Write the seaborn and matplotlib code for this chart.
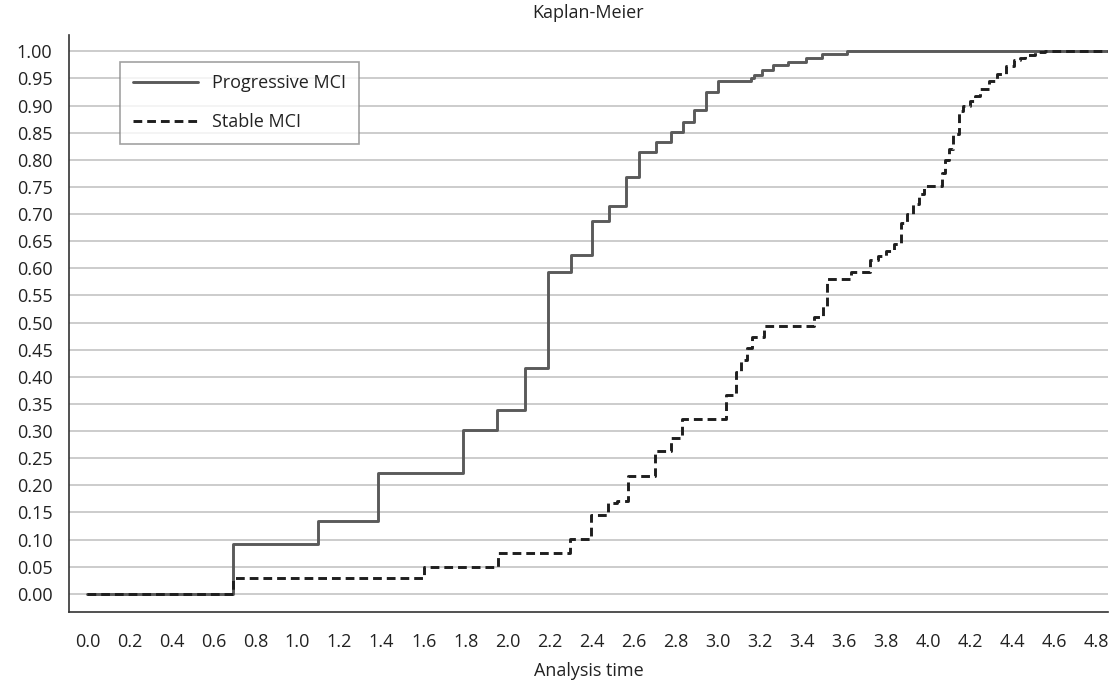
import pandas as pd
import matplotlib.pyplot as plt
import seaborn as sns

# Kaplan-Meier failure curves (time, cumulative value)
prog_time = [0.0, 0.694, 1.097, 1.383, 1.786, 1.948, 2.084, 2.190, 2.301, 2.400,
             2.483, 2.562, 2.626, 2.705, 2.776, 2.835, 2.887, 2.942, 3.002, 3.156,
             3.172, 3.210, 3.262, 3.335, 3.420, 3.494, 3.615, 4.850]
prog_val = [0.0, 0.092, 0.135, 0.222, 0.302, 0.339, 0.416, 0.594, 0.624, 0.688,
            0.715, 0.769, 0.814, 0.833, 0.852, 0.869, 0.891, 0.924, 0.946, 0.951,
            0.956, 0.965, 0.975, 0.980, 0.987, 0.995, 1.0, 1.0]

stable_time = [0.0, 0.694, 1.604, 1.953, 2.296, 2.396, 2.475, 2.520, 2.570, 2.702,
               2.776, 2.831, 3.037, 3.088, 3.110, 3.140, 3.164, 3.220, 3.457, 3.500,
               3.520, 3.631, 3.726, 3.760, 3.800, 3.840, 3.869, 3.900, 3.930, 3.955,
               3.980, 4.064, 4.080, 4.100, 4.120, 4.145, 4.166, 4.200, 4.225, 4.249,
               4.290, 4.330, 4.370, 4.410, 4.439, 4.463, 4.510, 4.558, 4.597, 4.850]
stable_val = [0.0, 0.030, 0.050, 0.075, 0.101, 0.145, 0.167, 0.171, 0.218, 0.264,
              0.287, 0.323, 0.367, 0.408, 0.431, 0.453, 0.473, 0.493, 0.510, 0.531,
              0.580, 0.5925, 0.615, 0.622, 0.632, 0.645, 0.683, 0.700, 0.718, 0.736,
              0.7515, 0.775, 0.800, 0.820, 0.848, 0.889, 0.900, 0.908, 0.917, 0.930,
              0.945, 0.958, 0.972, 0.983, 0.988, 0.993, 0.998, 1.0, 1.0, 1.0]

groups = ['Progressive MCI', 'Stable MCI']

df = pd.concat([
    pd.DataFrame({'time': prog_time, 'value': prog_val, 'group': groups[0]}),
    pd.DataFrame({'time': stable_time, 'value': stable_val, 'group': groups[1]}),
])

sns.set_style('white')
plt.rcParams['font.family'] = ['Open Sans', 'DejaVu Sans']
plt.rcParams['font.size'] = 13

fig = plt.figure(figsize=(11.1, 6.82), dpi=100)
ax = fig.add_axes([0.0622, 0.1031, 0.9358, 0.8456])

sns.lineplot(data=df, x='time', y='value', hue='group', style='group',
             palette={groups[0]: '#5a5a5a', groups[1]: '#1e1e1e'},
             dashes={groups[0]: '', groups[1]: (3, 1.7)},
             drawstyle='steps-post', linewidth=2.1, estimator=None, sort=False,
             ax=ax, zorder=3)

yticks = [i * 0.05 for i in range(21)]
xticks = [i * 0.2 for i in range(25)]
ax.set_yticks(yticks)
ax.set_yticklabels([f'{v:.2f}' for v in yticks])
ax.set_xticks(xticks)
ax.set_xticklabels([f'{v:.1f}' for v in xticks])
ax.set_xlim(-0.087, 4.855)
ax.set_ylim(-0.033, 1.03)

ax.yaxis.grid(True, color='#c8c8c8', linewidth=1.3)
ax.xaxis.grid(False)
for s in ['top', 'right']:
    ax.spines[s].set_visible(False)
for s in ['left', 'bottom']:
    ax.spines[s].set_color('#333333')
    ax.spines[s].set_linewidth(1.2)
ax.tick_params(axis='both', direction='out', length=7, width=1.2,
               color='#333333', labelcolor='#222222', labelsize=13)
ax.tick_params(axis='y', pad=5)
ax.tick_params(axis='x', pad=8.5)

ax.set_title('Kaplan-Meier', fontsize=13, color='#222222', pad=12)
ax.set_xlabel('Analysis time', fontsize=13, color='#222222', labelpad=8)
ax.set_ylabel('')

handles, labels = ax.get_legend_handles_labels()
leg = ax.legend(handles, labels, loc='upper left', bbox_to_anchor=(0.049, 0.9537),
                borderaxespad=0, frameon=True, fancybox=False, fontsize=13,
                handlelength=3.6, handletextpad=0.8, labelspacing=1.15,
                borderpad=0.7)
leg.get_frame().set_edgecolor('#8a8a8a')
leg.get_frame().set_linewidth(1.2)
for t in leg.get_texts():
    t.set_color('#222222')

fig.savefig('out.png', dpi=100)
